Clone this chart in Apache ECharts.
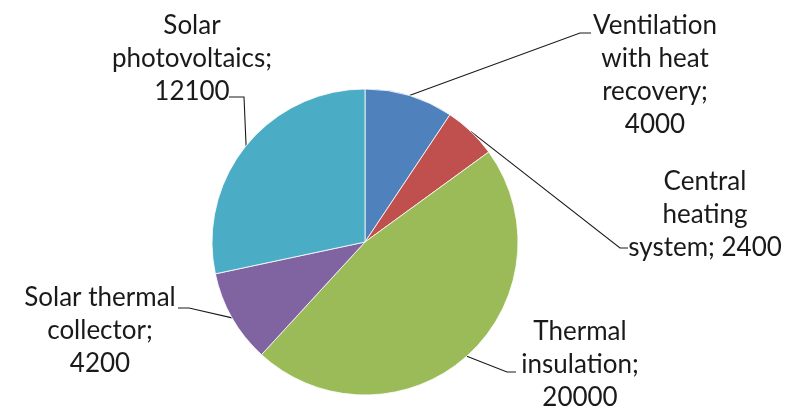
<!DOCTYPE html>
<html>
<head>
<meta charset="utf-8">
<script src="https://cdn.jsdelivr.net/npm/echarts@6/dist/echarts.min.js"></script>
<style>
html, body { margin: 0; padding: 0; background: #fff; }
#main { width: 798px; height: 409px; }
</style>
</head>
<body>
<div id="main"></div>
<script>
// data
var categories = ['Ventilation with heat recovery', 'Central heating system', 'Thermal insulation', 'Solar thermal collector', 'Solar photovoltaics'];
var values = [4000, 2400, 20000, 4200, 12100];
// how each label wraps, {v} = value
var labelWraps = ['Ventilation\nwith heat\nrecovery;\n{v}', 'Central\nheating\nsystem; {v}', 'Thermal\ninsulation;\n{v}', 'Solar thermal\ncollector;\n{v}', 'Solar\nphotovoltaics;\n{v}'];
var colors = ['#4F81BD', '#C0504D', '#9BBB59', '#8064A2', '#4BACC6'];

// label block position (center x, top y) and leader line bend/end
var labelPos = [
    {x: 655, y: 9, elbow: [580, 33], end: [591, 33]},
    {x: 705, y: 165, elbow: [620, 248], end: [628, 248]},
    {x: 580, y: 315, elbow: [507, 372], end: [516, 372]},
    {x: 100, y: 281, elbow: [189, 308], end: [178, 308]},
    {x: 192, y: 9, elbow: [244, 97], end: [229, 97]}
];

var pieData = [];
for (var i = 0; i < categories.length; i++) {
    pieData.push({name: categories[i], value: values[i], itemStyle: {color: colors[i]}});
}

var chart = echarts.init(document.getElementById('main'));
var option = {
    backgroundColor: '#fff',
    animation: false,
    series: [
        {
            type: 'pie',
            center: [365, 242],
            radius: 153,
            startAngle: 90,
            clockwise: true,
            avoidLabelOverlap: false,
            itemStyle: {
                borderColor: '#fff',
                borderWidth: 0.8
            },
            emphasis: {scale: false},
            label: {
                show: true,
                position: 'outside',
                fontFamily: 'Lato',
                fontSize: 26,
                lineHeight: 33,
                color: '#1a1a1a',
                formatter: function (p) {
                    return labelWraps[p.dataIndex].replace('{v}', p.value);
                }
            },
            labelLine: {
                show: true,
                length: 10,
                length2: 10,
                lineStyle: {color: '#1a1a1a', width: 1.1}
            },
            labelLayout: function (params) {
                var p = labelPos[params.dataIndex];
                var a = params.labelLinePoints[0];
                return {
                    x: p.x,
                    y: p.y,
                    align: 'center',
                    verticalAlign: 'top',
                    labelLinePoints: [a, p.elbow, p.end]
                };
            },
            data: pieData
        }
    ]
};
chart.setOption(option);
</script>
</body>
</html>
